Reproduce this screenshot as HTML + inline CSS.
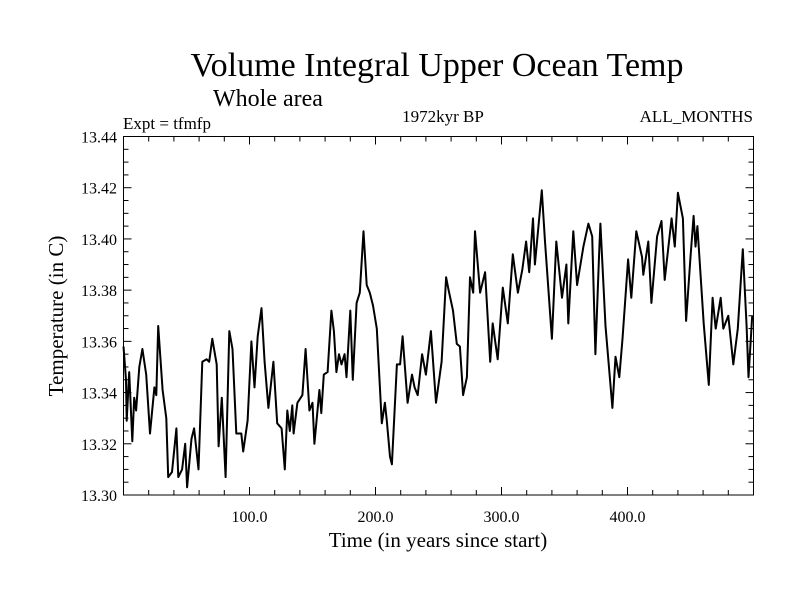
<!DOCTYPE html>
<html><head><meta charset="utf-8"><style>
html,body{margin:0;padding:0;background:#fff;}
svg{display:block;font-family:"Liberation Serif",serif;}
</style></head><body>
<svg id="chart" width="800" height="600" viewBox="0 0 800 600">
<text x="437" y="76" font-size="34" text-anchor="middle">Volume Integral Upper Ocean Temp</text>
<text x="268" y="106" font-size="24" text-anchor="middle">Whole area</text>
<text x="123" y="129" font-size="17">Expt = tfmfp</text>
<text x="443" y="122" font-size="17" text-anchor="middle">1972kyr BP</text>
<text x="753" y="122" font-size="17" text-anchor="end">ALL_MONTHS</text>
<text x="0" y="0" font-size="21" text-anchor="middle" transform="translate(63,316) rotate(-90)">Temperature (in C)</text>
<text x="438" y="547" font-size="21" text-anchor="middle">Time (in years since start)</text>
<g id="axes"></g>
<path id="series" fill="none" stroke="#000" stroke-width="2" stroke-linejoin="round"></path>
<rect x="123.5" y="136.5" width="630" height="358.5" fill="none" stroke="#000" stroke-width="1"></rect>
</svg>
<script>
const years = [0,2,2.5,4.5,7,8.5,10,12.5,15,18,21,24.5,26,27.5,31,34,35.5,38.5,42,43.5,46.5,49,50.5,54,56,59.5,62.5,66,68,70.5,74,75.5,78,81,84,86.5,89.5,93.5,95,98.5,101.5,104,106.5,109.5,112,115,119,122,125.5,128,130,132,134,135,138,142,144.5,147.5,150,151.5,155.5,157,159,162,165,167,169,171,173,175.5,177,180,182,185,187.5,190.5,193,195.5,198,201,205,207.5,209,211.5,213,217,219.5,221.5,225.5,229,231,233.5,237,240,244,248,252.5,256,258,261.5,264.5,267,269.5,272.5,275,277.5,279,283,287,291,293,297,301,305,309,313,316.5,319.5,322,325,326.5,332,334.5,340,343.5,348,351.5,353,357,360,365,369,372,374.5,377.5,378.5,382.5,388,390.5,393.5,396,400.5,403,407,411.5,412.5,416.5,419,423.5,427,429.5,435,437.5,440,444,446.5,450,452.5,454,455.5,460.5,464.5,467.5,470,474,476,480,484,487.5,491.5,494.5,496,499];
const temps = [13.358,13.345,13.329,13.348,13.321,13.338,13.333,13.350,13.357,13.347,13.324,13.342,13.339,13.366,13.341,13.330,13.307,13.309,13.326,13.307,13.310,13.320,13.303,13.322,13.326,13.310,13.352,13.353,13.352,13.361,13.351,13.319,13.338,13.307,13.364,13.357,13.324,13.324,13.317,13.329,13.360,13.342,13.362,13.373,13.352,13.334,13.352,13.328,13.326,13.310,13.333,13.325,13.335,13.324,13.336,13.339,13.357,13.333,13.336,13.320,13.341,13.332,13.347,13.348,13.372,13.364,13.348,13.355,13.351,13.355,13.346,13.372,13.345,13.375,13.379,13.403,13.382,13.379,13.374,13.365,13.328,13.336,13.329,13.315,13.312,13.351,13.351,13.362,13.336,13.347,13.342,13.339,13.355,13.347,13.364,13.336,13.352,13.385,13.380,13.372,13.359,13.358,13.339,13.346,13.385,13.379,13.403,13.379,13.387,13.352,13.367,13.353,13.381,13.367,13.394,13.379,13.388,13.399,13.387,13.408,13.390,13.419,13.399,13.361,13.399,13.377,13.390,13.367,13.403,13.382,13.397,13.406,13.401,13.355,13.394,13.406,13.366,13.334,13.354,13.346,13.361,13.392,13.377,13.403,13.393,13.386,13.399,13.375,13.401,13.407,13.384,13.408,13.397,13.418,13.408,13.368,13.393,13.409,13.397,13.405,13.367,13.343,13.377,13.365,13.377,13.365,13.370,13.351,13.365,13.396,13.366,13.346,13.370];
const yTickLabels = ["13.30","13.32","13.34","13.36","13.38","13.40","13.42","13.44"];
const xTickLabels = ["100.0","200.0","300.0","400.0"];

const X0=123.5, X1=753.5, Y0=495, Y1=136.5;
const xMin=0, xMax=500, yMin=13.30, yMax=13.44;
function xs(v){return X0+(v-xMin)/(xMax-xMin)*(X1-X0);}
function ys(v){return Y0-(v-yMin)/(yMax-yMin)*(Y0-Y1);}
const NS="http://www.w3.org/2000/svg";
const axes=document.getElementById('axes');
function ln(x1,y1,x2,y2,name){
  const l=document.createElementNS(NS,'line');
  l.setAttribute('x1',x1);l.setAttribute('y1',y1);l.setAttribute('x2',x2);l.setAttribute('y2',y2);
  l.setAttribute('stroke','#000');l.setAttribute('stroke-width','1');
  
  
  axes.appendChild(l);
}
function txt(x,y,s,anchor,name){
  const t=document.createElementNS(NS,'text');
  t.setAttribute('x',x);t.setAttribute('y',y);t.setAttribute('font-size','16');
  t.setAttribute('text-anchor',anchor);t.textContent=s;
  
  
  axes.appendChild(t);
}
// y ticks
for(let k=0;k<=28;k++){
  const v=yMin+k*0.005, y=ys(v), L=(k%4===0)?8:5;
  ln(X0,y,X0+L,y,'y-tick');
  ln(X1,y,X1-L,y,'y-tick-right');
}
yTickLabels.forEach(s=>txt(117,ys(parseFloat(s))+6,s,'end','y-tick-label'));
// x ticks
for(let v=20;v<500;v+=20){
  const x=xs(v), L=(v%100===0)?8:5;
  ln(x,Y0,x,Y0-L,'x-tick');
  ln(x,Y1,x,Y1+L,'x-tick-top');
}
xTickLabels.forEach(s=>txt(xs(parseFloat(s)),522,s,'middle','x-tick-label'));
// series
let d='';
years.forEach((yr,i)=>{d+=(i?'L':'M')+xs(yr).toFixed(1)+' '+ys(temps[i]).toFixed(1);});
document.getElementById('series').setAttribute('d',d);
</script>
</body></html>
